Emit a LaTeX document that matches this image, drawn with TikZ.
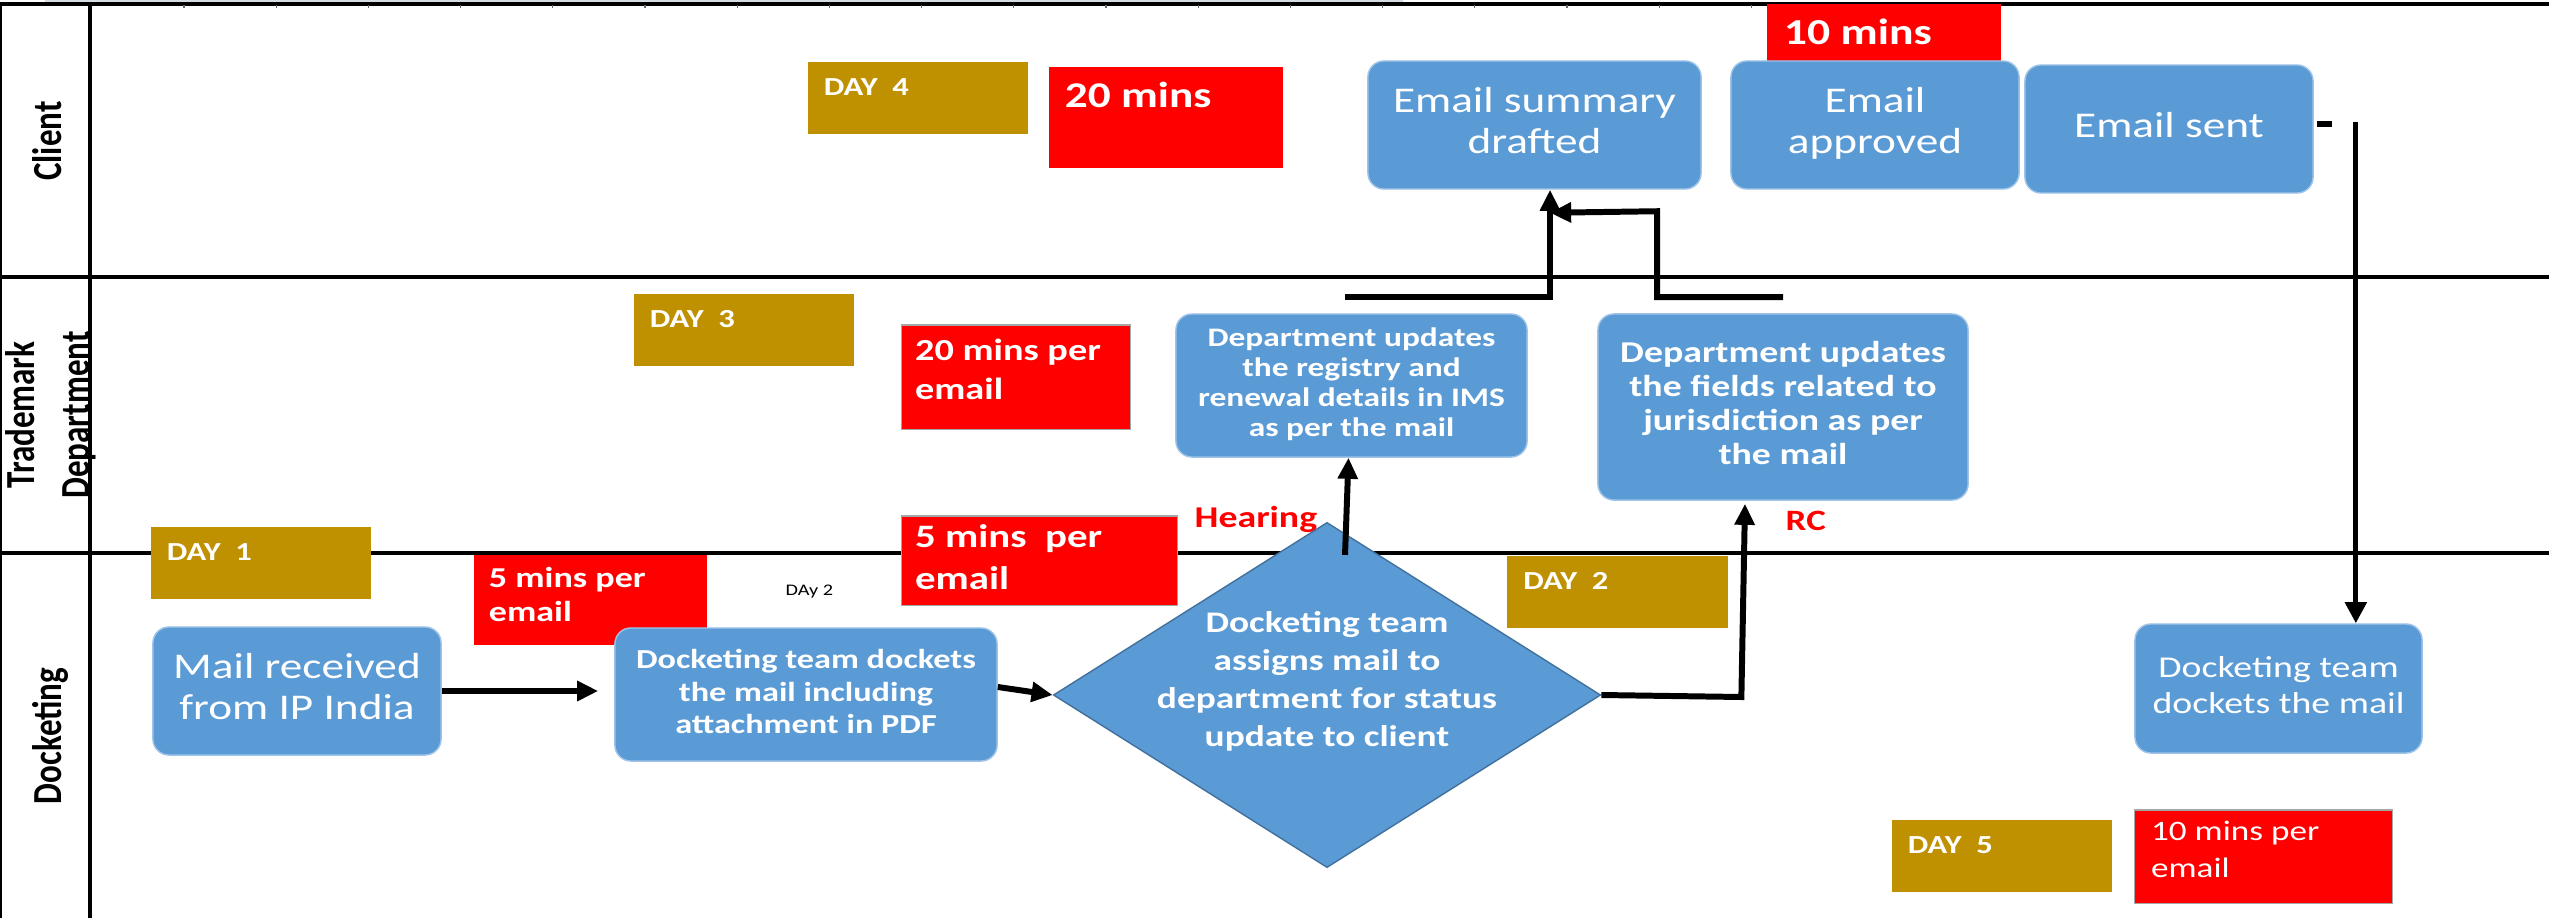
\documentclass[tikz,border=0pt]{standalone}
\usepackage{fontspec}
\setmainfont{Carlito}
\usepackage{graphicx}
\usetikzlibrary{shapes.geometric,arrows.meta,calc}

\definecolor{boxblue}{RGB}{91,155,213}
\definecolor{boxedge}{RGB}{160,196,232}
\definecolor{diaedge}{RGB}{65,113,156}
\definecolor{daygold}{RGB}{191,144,0}
\definecolor{timered}{RGB}{255,0,0}
\definecolor{rulerstrip}{RGB}{214,220,228}

% text blocks, widened horizontally like the rest of the chart
\newcommand\ctext[1]{\scalebox{1.25}[1]{\begin{tabular}{@{}c@{}}#1\end{tabular}}}
\newcommand\ltext[1]{\scalebox{1.25}[1]{\begin{tabular}[t]{@{}l@{}}#1\end{tabular}}}
\newcommand\lanetext[1]{\scalebox{1}[1.25]{\begin{tabular}{@{}c@{}}#1\end{tabular}}}
\newcommand\fs[2]{\fontsize{#1}{#2}\selectfont}

\tikzset{
  bbox/.style={rectangle, rounded corners=0.16cm, fill=boxblue, draw=boxedge,
    line width=0.4pt, inner sep=0pt, text=white},
  daybox/.style={rectangle, fill=daygold, inner sep=0pt,
    minimum width=2.2cm, minimum height=0.72cm},
  minbox/.style={rectangle, fill=timered, inner sep=0pt},
  minedge/.style={draw=black!35, line width=0.3pt},
  tag/.style={inner sep=0pt, anchor=base west, text=white},
  daytag/.style={tag, font=\bfseries\fs{7.4}{9}},
  lane/.style={rotate=90, inner sep=0pt, font=\bfseries\fs{9.4}{12.5}},
  flow/.style={line width=1.7pt, -{Triangle[length=6pt,width=5.5pt]}},
  lanerule/.style={line width=0.95pt}
}

\begin{document}
\begin{tikzpicture}[x=0.01cm, y=-0.01cm]
\useasboundingbox (0,0) rectangle (2549,918);
\fill[white] (0,0) rectangle (2549,918);

% swimlane frame
\fill[rulerstrip] (45,0) rectangle (1403,3);
\draw[lanerule] (0,4) -- (2549,4);
\foreach \i in {0,...,18} \draw[black!60, line width=0.3pt] ({184+92.2*\i},5) -- ++(0,3);
\draw[lanerule] (0,277) -- (2549,277);
\draw[lanerule] (0,553) -- (2549,553);
\draw[lanerule] (90,4) -- (90,918);
\draw[line width=0.6pt] (0.8,4) -- (0.8,918);

% lane titles
\node[lane] (lc) at (51,141) {\lanetext{Client}};
\node[lane] (lt) at (51,415) {\lanetext{Trademark\\Department}};
\node[lane] (ld) at (51,736) {\lanetext{Docketing}};

% day markers
\node[daybox] (day4) at (918,98) {};
\node[daytag] (day4t) at ($(day4.north west)+(16,34)$) {\ltext{DAY\ \ 4}};
\node[daybox] (day3) at (744,330) {};
\node[daytag] (day3t) at ($(day3.north west)+(16,34)$) {\ltext{DAY\ \ 3}};
\node[daybox] (day1) at (261,563) {};
\node[daytag] (day1t) at ($(day1.north west)+(16,34)$) {\ltext{DAY\ \ 1}};
\node[daybox] (day2) at (1617.5,592) {};
\node[daytag] (day2t) at ($(day2.north west)+(16,34)$) {\ltext{DAY\ \ 2}};
\node[daybox] (day5) at (2002,856) {};
\node[daytag] (day5t) at ($(day5.north west)+(16,34)$) {\ltext{DAY\ \ 5}};

% time markers
\node[minbox, minimum width=2.34cm, minimum height=1.01cm] (m20) at (1166,117.5) {};
\node[tag, font=\bfseries\fs{10.3}{12}] (m20t) at ($(m20.north west)+(16,41)$) {\ltext{20 mins}};
\node[minbox, minimum width=2.34cm, minimum height=0.58cm] (m10) at (1884,33.5) {};
\node[tag, font=\bfseries\fs{10.4}{12}] (m10t) at ($(m10.north west)+(17,41)$) {\ltext{10 mins}};
\node[minbox, minedge, minimum width=2.28cm, minimum height=1.04cm] (m20pe) at (1016,377) {};
\node[tag, font=\bfseries\fs{8.7}{11.1}] (m20pet) at ($(m20pe.north west)+(13,36)$) {\ltext{20 mins per\\email}};
\node[minbox, minimum width=2.33cm, minimum height=0.90cm] (m5a) at (590.5,600) {};
\node[tag, font=\bfseries\fs{8.2}{9.7}] (m5at) at ($(m5a.north west)+(15,33)$) {\ltext{5 mins per\\email}};
\node[minbox, minedge, minimum width=2.75cm, minimum height=0.89cm] (m5b) at (1039.5,560.5) {};
\node[tag, font=\bfseries\fs{9.3}{11.9}] (m5bt) at ($(m5b.north west)+(13,32)$) {\ltext{5 mins\ \ per\\email}};
\node[minbox, minedge, minimum width=2.57cm, minimum height=0.93cm] (m10pe) at (2263.5,856.5) {};
\node[tag, font=\fs{8.0}{10.5}] (m10pet) at ($(m10pe.north west)+(16,31)$) {\ltext{10 mins per\\email}};

% branch labels and note
\node[tag, text=timered, font=\bfseries\fs{8.6}{10}] (hear) at (1194,527) {\ltext{Hearing}};
\node[tag, text=timered, font=\bfseries\fs{8.4}{10}] (rc) at (1785,530) {\ltext{RC}};
\node[tag, text=black, font=\fs{4.6}{6}] (dayy) at (785,595) {\ltext{DAy 2}};

% process steps
\node[bbox, minimum width=3.33cm, minimum height=1.28cm, font=\fs{10.3}{11.4}] (eas) at (1534.5,125) {\ctext{Email summary\\drafted}};
\node[bbox, minimum width=2.88cm, minimum height=1.28cm, font=\fs{10.3}{11.4}] (eap) at (1875,125) {\ctext{Email\\approved}};
\node[bbox, minimum width=2.88cm, minimum height=1.28cm, font=\fs{10.3}{11.4}] (esn) at (2169,129) {\ctext{Email sent}};
\node[bbox, minimum width=3.51cm, minimum height=1.43cm, font=\bfseries\fs{7.6}{8.5}] (reg) at (1351.5,385.5) {\ctext{Department updates\\the registry and\\renewal details in IMS\\as per the mail}};
\node[bbox, minimum width=3.70cm, minimum height=1.86cm, font=\bfseries\fs{8.6}{9.7}] (jur) at (1783,407) {\ctext{Department updates\\the fields related to\\jurisdiction as per\\the mail}};
\node[bbox, minimum width=2.88cm, minimum height=1.28cm, font=\fs{10.3}{11.4}] (mail) at (297,691) {\ctext{Mail received\\from IP India}};
\node[bbox, minimum width=3.82cm, minimum height=1.33cm, font=\bfseries\fs{7.8}{9.25}] (dock) at (806,694.5) {\ctext{Docketing team dockets\\the mail including\\attachment in PDF}};
\node[bbox, minimum width=2.87cm, minimum height=1.29cm, font=\fs{8.6}{10.2}] (dock2) at (2278.5,688.5) {\ctext{Docketing team\\dockets the mail}};

% decision
\node[diamond, fill=boxblue, draw=diaedge, line width=0.4pt, inner sep=0pt,
  minimum width=5.47cm, minimum height=3.45cm] (dia) at (1327,695) {};
\node[inner sep=0pt, text=white, font=\bfseries\fs{8.5}{10.8}] (diat) at (1327,682)
  {\ctext{Docketing team\\assigns mail to\\department for status\\update to client}};

% connectors
\draw[flow] (mail.east) -- ([xshift=-0.16cm]dock.west |- mail.east);
\draw[flow] ([yshift=0.075cm]dock.east) -- (dia.west);
\draw[flow] ([xshift=0.18cm,yshift=1.40cm]dia.center) -- ([xshift=-0.03cm]reg.south);
\draw[flow] (dia.east) -- ++(140,2) -- ([xshift=-0.38cm,yshift=-0.03cm]jur.south);
\draw[flow] ([xshift=-0.065cm,yshift=0.16cm]reg.north) -| ([xshift=0.155cm]eas.south);
\coordinate (join) at ([xshift=0.155cm,yshift=-0.23cm]eas.south);
\draw[flow] ([yshift=0.16cm]jur.north) -| ++(-126,-86) -- (join);
\draw[line width=1.7pt] ([xshift=0.03cm,yshift=0.05cm]esn.east) -- ++(15,0);
\coordinate (esnout) at ([xshift=0.42cm,yshift=0.07cm]esn.east);
\draw[line width=1.4pt, -{Triangle[length=6pt,width=6pt]}] (esnout) -- (esnout |- dock2.north);
\end{tikzpicture}
\end{document}
